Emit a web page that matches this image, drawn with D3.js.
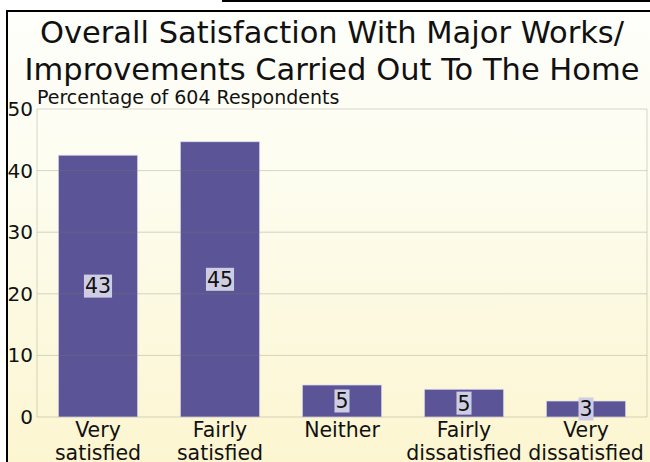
<!DOCTYPE html>
<html><head><meta charset="utf-8">
<script src="https://cdn.jsdelivr.net/npm/d3@7"></script>
<style>html,body{margin:0;padding:0;background:#fff;overflow:hidden}svg{display:block}</style>
</head><body>
<script>
const categories = ["Very|satisfied", "Fairly|satisfied", "Neither", "Fairly|dissatisfied", "Very|dissatisfied"];
const values = [42.5, 44.7, 5.2, 4.5, 2.6];
const valueLabels = ["43", "45", "5", "5", "3"];
const yTicks = [0, 10, 20, 30, 40, 50];
const titleLines = ["Overall Satisfaction With Major Works/", "Improvements Carried Out To The Home"];
const subtitle = "Percentage of 604 Respondents";

(function() {
const W = 650, H = 462;
const font = "DejaVu Sans, sans-serif";
const svg = d3.select("body").append("svg").attr("width", W).attr("height", H);
const defs = svg.append("defs");
const g = defs.append("linearGradient").attr("id", "bg").attr("x1", 0).attr("y1", 0).attr("x2", 0).attr("y2", 1);
g.append("stop").attr("offset", "0%").attr("stop-color", "#fefefb");
g.append("stop").attr("offset", "35%").attr("stop-color", "#fdfdf0");
g.append("stop").attr("offset", "100%").attr("stop-color", "#fcf5cf");

// frame
svg.append("rect").attr("x", 6).attr("y", 11).attr("width", W).attr("height", H).attr("fill", "url(#bg)");
svg.append("line").attr("x1", 7).attr("x2", 7).attr("y1", 10).attr("y2", H).attr("stroke", "#000").attr("stroke-width", 2);
svg.append("line").attr("x1", 6).attr("x2", W).attr("y1", 11).attr("y2", 11).attr("stroke", "#000").attr("stroke-width", 2);
svg.append("line").attr("x1", 222).attr("x2", W).attr("y1", 1).attr("y2", 1).attr("stroke", "#000").attr("stroke-width", 2);

const pL = 37, pR = 647, pT = 109, pB = 417;
const x = d3.scaleBand().domain(categories).range([pL, pR]).paddingInner(0.35).paddingOuter(0.175);
const y = d3.scaleLinear().domain([0, 50]).range([pB, pT]);

// title
svg.append("g").selectAll("text").data(titleLines).join("text")
  .attr("x", 332).attr("y", (d, i) => 43 + i * 36.5)
  .attr("text-anchor", "middle").attr("font-family", font).attr("font-size", 30.5).attr("fill", "#111")
  .text(d => d);

// bars
svg.append("g").selectAll("rect").data(values).join("rect")
  .attr("x", (d, i) => x(categories[i])).attr("width", x.bandwidth())
  .attr("y", d => y(d)).attr("height", d => y(0) - y(d))
  .attr("fill", "#5b5597").attr("stroke", "#e8e6f2").attr("stroke-width", 1).attr("stroke-opacity", 0.7);

// grid
const grid = svg.append("g");
grid.selectAll("line").data(yTicks).join("line")
  .attr("x1", pL).attr("x2", pR).attr("y1", d => y(d)).attr("y2", d => y(d))
  .attr("stroke", "#7a7a6a").attr("stroke-opacity", 0.3).attr("stroke-width", 1);
svg.append("line").attr("x1", pL).attr("x2", pL).attr("y1", pT).attr("y2", pB).attr("stroke", "#7a7a6a").attr("stroke-opacity", 0.3);
svg.append("line").attr("x1", pR).attr("x2", pR).attr("y1", pT).attr("y2", pB).attr("stroke", "#7a7a6a").attr("stroke-opacity", 0.3);

// y axis labels
const yAxis = d3.axisLeft(y).tickValues(yTicks).tickSize(0).tickPadding(4);
const ya = svg.append("g").attr("transform", `translate(${pL},0)`).call(yAxis);
ya.select(".domain").remove();
ya.selectAll("text").attr("font-family", font).attr("font-size", 20).attr("fill", "#111");

// subtitle
svg.append("text").attr("x", 37).attr("y", 104).attr("font-family", font).attr("font-size", 19).attr("fill", "#111").text(subtitle);

// x labels
const xl = svg.append("g").selectAll("text").data(categories).join("text")
  .attr("x", d => x(d) + x.bandwidth() / 2).attr("y", 437)
  .attr("text-anchor", "middle").attr("font-family", font).attr("font-size", 20.5).attr("fill", "#111");
xl.selectAll("tspan").data(d => d.split("|")).join("tspan")
  .attr("x", function() { return this.parentNode.getAttribute("x"); })
  .attr("dy", (d, i) => i === 0 ? 0 : 23).text(d => d);

// value labels
const vl = svg.append("g").selectAll("g").data(values).join("g");
vl.each(function(d, i) {
  const gg = d3.select(this);
  const cx = x(categories[i]) + x.bandwidth() / 2;
  const cy = (y(d) + y(0)) / 2;
  const t = gg.append("text").attr("x", cx).attr("y", cy).attr("dy", "0.36em")
    .attr("text-anchor", "middle").attr("font-family", font).attr("font-size", 20.5).attr("fill", "#111")
    .text(valueLabels[i]);
  const bb = t.node().getBBox();
  gg.insert("rect", "text").attr("x", bb.x - 1).attr("y", cy - 11.5).attr("width", bb.width + 2).attr("height", 23)
    .attr("fill", "#cfcde3");
});
})();
</script>
</body></html>
